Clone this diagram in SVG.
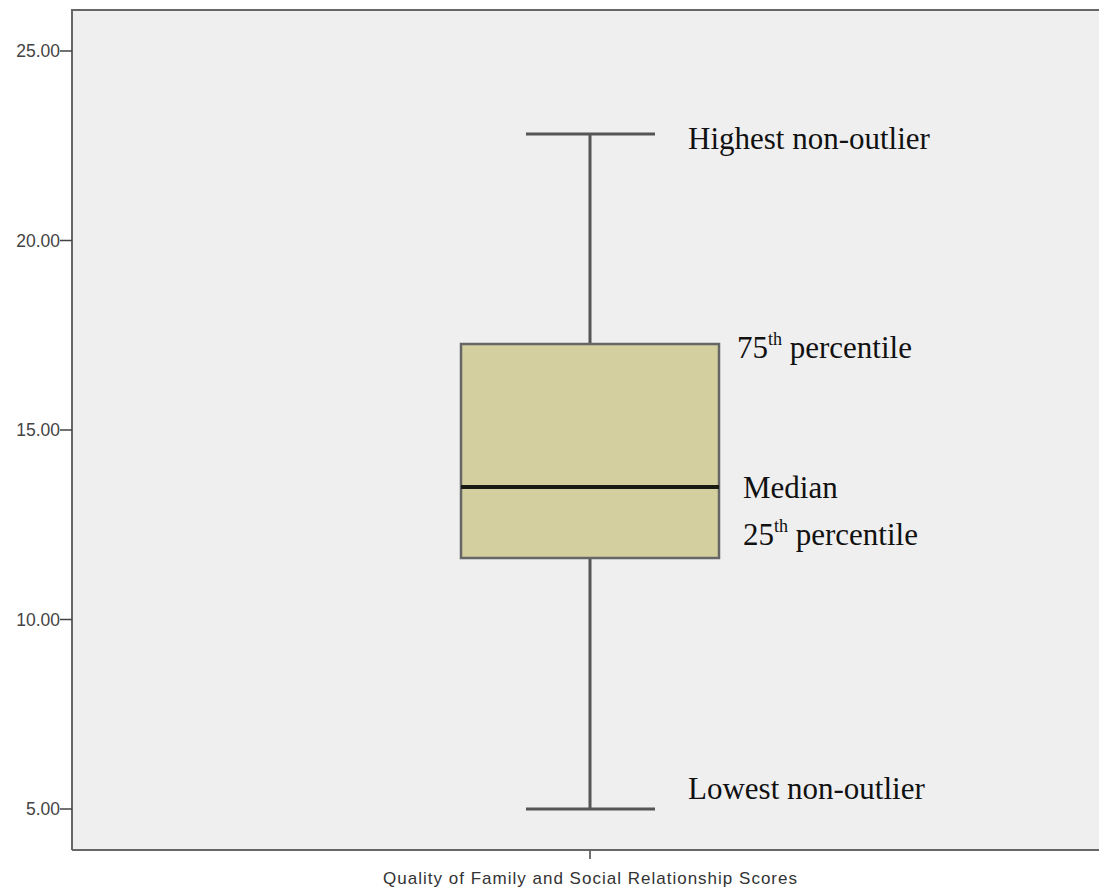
<svg xmlns="http://www.w3.org/2000/svg" width="1099" height="888" viewBox="0 0 1099 888">
<style>
.tick{font-family:"Liberation Sans",Arial,sans-serif;font-size:17.5px;fill:#444;text-anchor:end}
.ann{font-family:"Liberation Serif","Times New Roman",serif;font-size:31px;fill:#111}
.sup{font-size:18px}
.axis{stroke:#666;stroke-width:2;fill:none}
.wh{stroke:#555;stroke-width:3;fill:none}
</style>
<rect x="0" y="0" width="1099" height="888" fill="#ffffff"/>
<rect id="plot-area" x="72" y="10" width="1040" height="840" fill="#efefef"/>
<g id="axes">
<path class="axis" d="M72 850 V10 H1100"/>
<path class="axis" d="M72 850 H1100"/>
<path stroke="#444" stroke-width="1.5" d="M60 51 H72 M60 240.5 H72 M60 430 H72 M60 619.5 H72 M60 809 H72 M590 851 V859"/>
<text class="tick" x="60" y="57">25.00</text>
<text class="tick" x="60" y="246.5">20.00</text>
<text class="tick" x="60" y="436">15.00</text>
<text class="tick" x="60" y="625.5">10.00</text>
<text class="tick" x="60" y="815">5.00</text>
<text x="590" y="884" text-anchor="middle" font-family="Liberation Sans,Arial,sans-serif" font-size="17" fill="#333" textLength="414" lengthAdjust="spacing">Quality of Family and Social Relationship Scores</text>
</g>
<g id="boxplot">
<path class="wh" d="M590 134 V344 M590 558 V809 M526 134 H655 M526 809 H655"/>
<rect x="461" y="344" width="258" height="214" fill="#d3cf9f" stroke="#666" stroke-width="2.5"/>
<path d="M461 487 H719" stroke="#1a1a14" stroke-width="4"/>
</g>
<g id="labels">
<text class="ann" x="688" y="149">Highest non-outlier</text>
<text class="ann" x="737" y="358">75<tspan class="sup" dy="-13">th</tspan><tspan dy="13"> percentile</tspan></text>
<text class="ann" x="743" y="498">Median</text>
<text class="ann" x="743" y="545">25<tspan class="sup" dy="-13">th</tspan><tspan dy="13"> percentile</tspan></text>
<text class="ann" x="688" y="799">Lowest non-outlier</text>
</g>
</svg>
